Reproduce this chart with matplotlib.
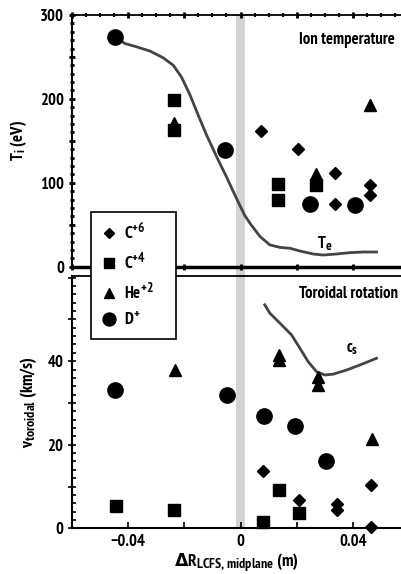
import matplotlib
matplotlib.use("Agg")
import numpy as np
import matplotlib._mathtext as mathtext_internals
from matplotlib import pyplot as plt
from matplotlib import font_manager
from matplotlib.ticker import MultipleLocator, FuncFormatter

# sub/superscripts in the original are only slightly smaller than the main text
mathtext_internals.SHRINK_FACTOR = 0.8

# pick a narrow sans with a real bold face (the original looks like Arial Narrow Bold)
bold_faces = set(f.name for f in font_manager.fontManager.ttflist
                 if (f.weight if isinstance(f.weight, int) else 400) >= 700
                 or f.weight in ("bold", "heavy", "black"))
narrow = next((f for f in ["Liberation Sans Narrow", "Arial Narrow", "PT Sans Narrow",
                           "Pragati Narrow", "Archivo Narrow", "Roboto Condensed",
                           "IBM Plex Sans Condensed", "Fira Sans Condensed",
                           "Liberation Sans"] if f in bold_faces),
              "DejaVu Sans")

plt.rcParams["font.family"] = [narrow, "DejaVu Sans"]
plt.rcParams["font.weight"] = "bold"
plt.rcParams["axes.labelweight"] = "bold"
plt.rcParams["font.size"] = 12
plt.rcParams["mathtext.default"] = "regular"

# ion temperature (eV) vs dR (m)
ti_c6_x = [0.0071, 0.0204, 0.0337, 0.0337, 0.0459, 0.0459]
ti_c6_y = [162, 140, 112, 75, 97, 85]
ti_c4_x = [-0.0238, -0.0238, 0.0134, 0.0134, 0.0269]
ti_c4_y = [199, 163, 99, 80, 97]
ti_he_x = [-0.0238, 0.0269, 0.0459]
ti_he_y = [171, 111, 193]
ti_d_x = [-0.0445, -0.0054, 0.0245, 0.0406]
ti_d_y = [274, 139, 75, 74]

te_x = [-0.0441, -0.0411, -0.0369, -0.0322, -0.0275, -0.0239, -0.0210, -0.0180, -0.0151,
        -0.0121, -0.0085, -0.0050, -0.0014, 0.0015, 0.0035, 0.0069, 0.0104, 0.0140,
        0.0175, 0.0211, 0.0258, 0.0293, 0.0341, 0.0388, 0.0436, 0.0483]
te_y = [273, 266, 262, 257, 249, 240, 226, 205, 181, 157, 131, 107, 81, 61, 51, 36, 26,
        23, 22, 18.7, 15.1, 13.9, 15.1, 16.7, 17.5, 17.5]

# toroidal rotation (km/s)
v_c6_x = [0.0079, 0.0209, 0.0341, 0.0341, 0.0463, 0.0463]
v_c6_y = [13.6, 6.8, 5.8, 4.4, 10.4, 0.2]
v_c4_x = [-0.0443, -0.0235, 0.0079, 0.0137, 0.0209]
v_c4_y = [5.4, 4.4, 1.4, 9.2, 3.6]
v_he_x = [-0.0232, 0.0138, 0.0138, 0.0275, 0.0275, 0.0466]
v_he_y = [38.0, 41.5, 40.4, 36.2, 34.4, 21.4]
v_d_x = [-0.0445, -0.0049, 0.0084, 0.0193, 0.0304]
v_d_y = [33.1, 31.9, 26.9, 24.5, 16.1]

cs_x = [0.0086, 0.0104, 0.0140, 0.0181, 0.0211, 0.0240, 0.0270, 0.0299, 0.0329, 0.0377,
        0.0424, 0.0483]
cs_y = [53.5, 51.5, 49.1, 46.3, 43.1, 39.9, 37.5, 36.7, 36.9, 37.9, 39.1, 40.7]

species = ["C$^{+6}$", "C$^{+4}$", "He$^{+2}$", "D$^{+}$"]
markers = {"C$^{+6}$": ("D", 6), "C$^{+4}$": ("s", 9), "He$^{+2}$": ("^", 9), "D$^{+}$": ("o", 11)}

fig = plt.figure(figsize=(4.01, 5.74), dpi=100)
ax1 = fig.add_axes([0.1788, 0.5354, 0.8212, 0.4385])
ax2 = fig.add_axes([0.1788, 0.0796, 0.8212, 0.4396])

for ax in (ax1, ax2):
    ax.set_xlim(-0.060, 0.057)
    ax.spines["right"].set_visible(False)
    ax.spines["left"].set_linewidth(1.5)
    ax.axvspan(-0.0015, 0.0015, color="#d3d3d3", lw=0, zorder=0)
ax1.axvspan(-0.0015, 0.0015, ymin=-0.04, ymax=0, color="#d3d3d3", lw=0, zorder=0, clip_on=False)

# top panel
ax1.plot(te_x, te_y, color="#444444", lw=2.0, zorder=2, solid_joinstyle="round")
for name, xs, ys in zip(species, [ti_c6_x, ti_c4_x, ti_he_x, ti_d_x], [ti_c6_y, ti_c4_y, ti_he_y, ti_d_y]):
    m, s = markers[name]
    ax1.plot(xs, ys, ls="none", marker=m, ms=s, color="black", zorder=3)
ax1.set_ylim(0, 300)
ax1.spines["bottom"].set_linewidth(2.5)
ax1.spines["top"].set_linewidth(1.3)
ax1.yaxis.set_major_locator(MultipleLocator(50))
ax1.yaxis.set_minor_locator(MultipleLocator(10))
ax1.yaxis.set_major_formatter(FuncFormatter(lambda v, p: f"{v:.0f}" if v % 100 == 0 else ""))
ax1.xaxis.set_major_locator(MultipleLocator(0.02))
ax1.xaxis.set_minor_locator(MultipleLocator(0.005))
ax1.tick_params(axis="y", which="major", direction="inout", length=5, width=2, pad=3)
ax1.tick_params(axis="y", which="minor", direction="inout", length=3, width=2)
ax1.tick_params(axis="x", which="major", direction="inout", length=5, width=2,
                top=True, labelbottom=False)
ax1.tick_params(axis="x", which="minor", direction="inout", length=3, width=1.5,
                top=True, bottom=False)
ax1.set_ylabel("T$_i$ (eV)", labelpad=8)
ax1.text(0.98, 0.9, "Ion temperature", transform=ax1.transAxes, ha="right", va="center")
ax1.text(0.030, 28, "T$_e$", ha="center", va="center", fontsize=12)

# bottom panel
ax2.plot(cs_x, cs_y, color="#444444", lw=2.0, zorder=2, solid_joinstyle="round")
for name, xs, ys in zip(species, [v_c6_x, v_c4_x, v_he_x, v_d_x], [v_c6_y, v_c4_y, v_he_y, v_d_y]):
    m, s = markers[name]
    ax2.plot(xs, ys, ls="none", marker=m, ms=s, color="black", zorder=3, clip_on=False, label=name)
ax2.set_ylim(0, 60.4)
ax2.spines["bottom"].set_linewidth(1.5)
ax2.spines["top"].set_linewidth(1.3)
ax2.yaxis.set_major_locator(MultipleLocator(10))
ax2.yaxis.set_minor_locator(MultipleLocator(2))
ax2.yaxis.set_major_formatter(FuncFormatter(lambda v, p: f"{v:.0f}" if v % 20 == 0 and v < 50 else ""))
ax2.xaxis.set_major_locator(MultipleLocator(0.02))
ax2.xaxis.set_major_formatter(FuncFormatter(
    lambda v, p: ("0" if abs(v) < 1e-9 else f"{v:.2f}".replace("-", "\u2212")) if abs(round(v / 0.02)) % 2 == 0 else ""))
ax2.tick_params(axis="y", which="major", direction="inout", length=6, width=1.2, pad=3)
ax2.tick_params(axis="y", which="minor", direction="in", length=3, width=1.2)
ax2.tick_params(axis="x", which="major", direction="in", length=4, width=1.2, pad=4)
ax2.set_ylabel("v$_{toroidal}$ (km/s)", labelpad=6, fontsize=12.5)
ax2.set_xlabel("$\\mathrm{\\Delta}$R$_{LCFS,midplane}$ (m)", labelpad=1, fontsize=12.5)
ax2.text(0.99, 0.93, "Toroidal rotation", transform=ax2.transAxes, ha="right", va="center")
ax2.text(0.0395, 43, "c$_s$", ha="center", va="center", fontsize=12)

leg = fig.legend(*ax2.get_legend_handles_labels(), loc="upper left",
                 bbox_to_anchor=(91 / 401, 1 - 335 / 574, 85 / 401, 123 / 574),
                 mode="expand", borderaxespad=0,
                 frameon=True, fancybox=False, edgecolor="black", framealpha=1,
                 borderpad=0.6, labelspacing=0.55, handletextpad=0.35, handlelength=1.0,
                 markerscale=0.85, fontsize=12)
leg.get_frame().set_linewidth(1.2)

fig.savefig("out.png", dpi=100)
